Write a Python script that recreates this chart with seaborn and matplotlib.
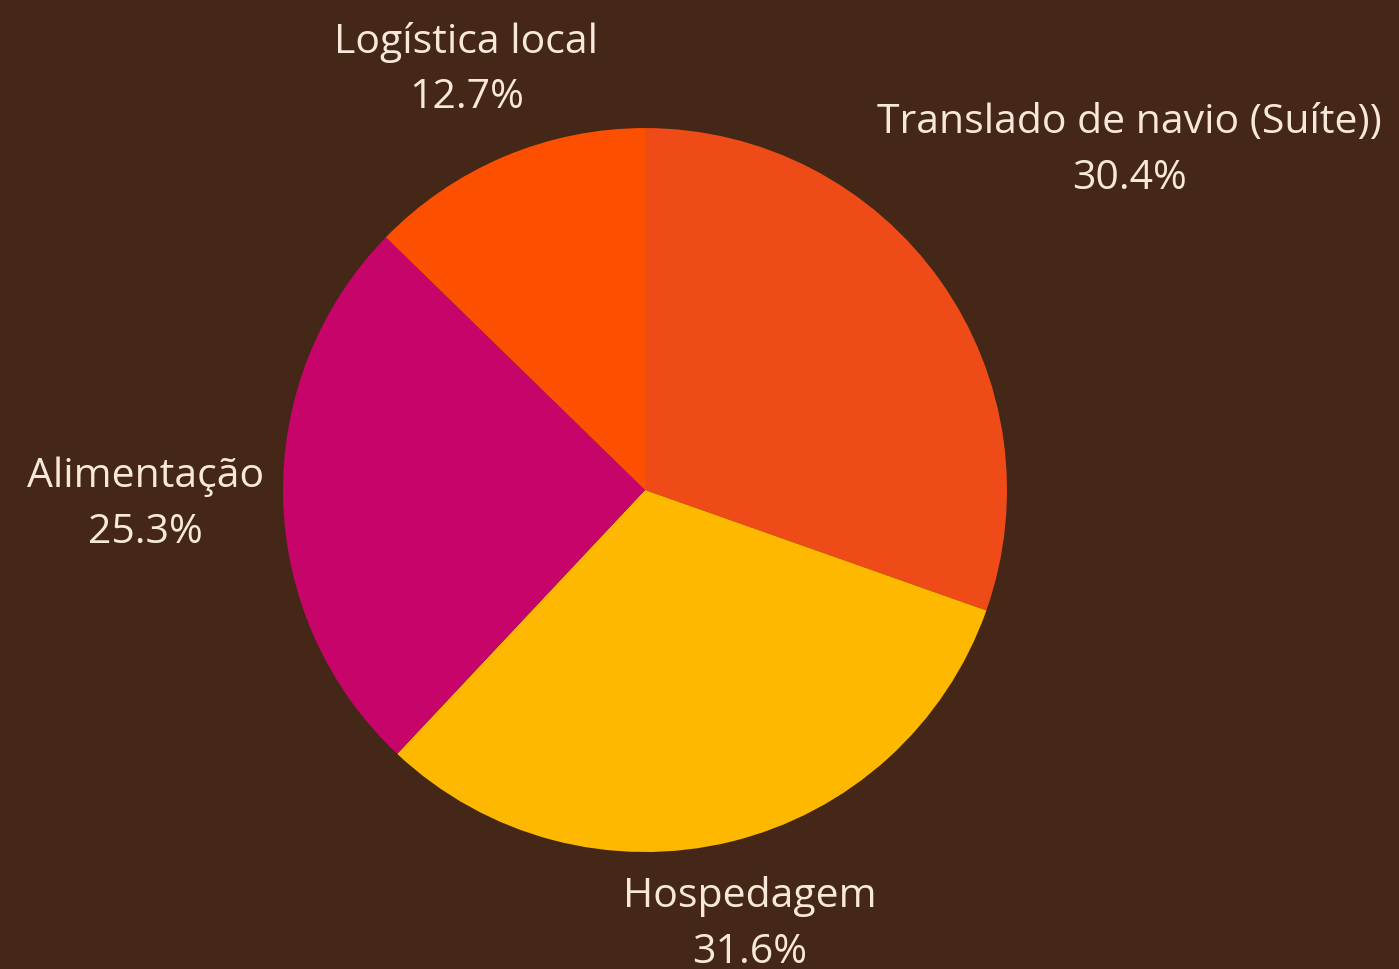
import numpy as np
import matplotlib.pyplot as plt
import seaborn as sns

sns.set_theme(style="white")
plt.rcParams['font.family'] = ['Open Sans', 'DejaVu Sans']

labels = ["Translado de navio (Suíte))", "Hospedagem", "Alimentação", "Logística local"]
shares = [30.4, 31.6, 25.3, 12.7]
colors = sns.color_palette(["#EE4B18", "#FFB800", "#C70469", "#FC4F00"])

bg = "#442716"
txt = "#F8E8DA"
# label distance from centre, in pie radii (per slice)
label_dist = [1.64, 1.225, 1.38, 1.27]

fig = plt.figure(figsize=(13.99, 9.69), dpi=100, facecolor=bg)
ax = fig.add_axes([0.2023, 0.1207, 0.5175, 0.7472])
ax.set_facecolor(bg)

wedges, _ = ax.pie(shares, colors=colors, startangle=90, counterclock=False,
                   radius=1, wedgeprops=dict(linewidth=0))
ax.set_xlim(-1, 1)
ax.set_ylim(-1, 1)
ax.set_aspect("equal")
ax.axis("off")

for w, lab, val, d in zip(wedges, labels, shares, label_dist):
    ang = np.deg2rad((w.theta1 + w.theta2) / 2)
    x, y = d * np.cos(ang), d * np.sin(ang) - 0.01
    ax.text(x, y, f"{lab}\n{val:.1f}%", ha="center", va="center",
            fontsize=29.5, color=txt, linespacing=1.5, clip_on=False)

fig.savefig("out.png", dpi=100, facecolor=bg)
